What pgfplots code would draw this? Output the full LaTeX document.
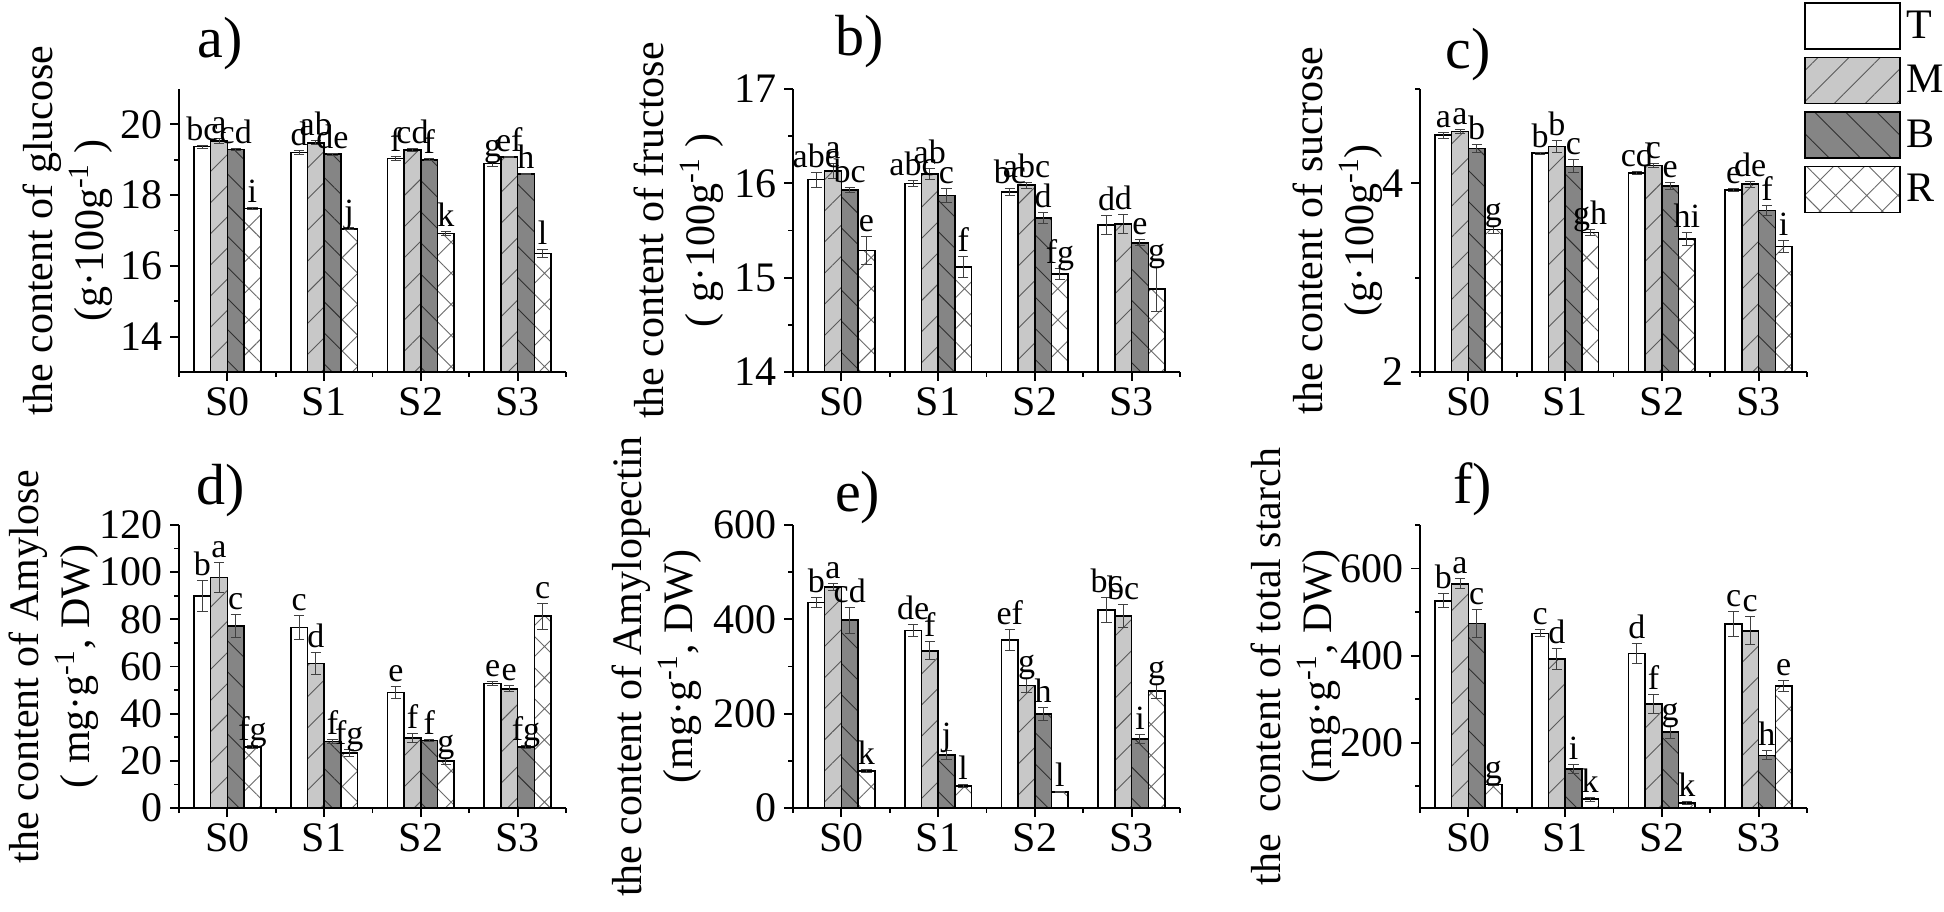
\documentclass[border=0pt]{standalone}
\usepackage{fontspec}
\setmainfont{Liberation Serif}
\usepackage{pgfplots}
\pgfplotsset{compat=1.18}
\usepackage{pgfplotstable}
\usetikzlibrary{patterns.meta}

\definecolor{mgray}{HTML}{C8C8C8}
\definecolor{bgray}{HTML}{858585}
\definecolor{hatchM}{HTML}{5A5A5A}
\definecolor{hatchB}{HTML}{303030}
\definecolor{hatchR}{HTML}{6A6A6A}
\definecolor{errc}{HTML}{404040}

% label columns: <error>/<letters>
\pgfplotstableread{
x T Te Tl M Me Ml B Be Bl R Re Rl
0 19.37 0.04 0.04/bc 19.53 0.06 0.06/a 19.29 0.03 0.03/cd 17.62 0.04 0.04/i
1 19.21 0.05 0.05/d 19.48 0.06 0.06/ab 19.16 0.03 0.03/de 17.05 0.03 0.03/j
2 19.03 0.06 0.06/f 19.27 0.05 0.05/cd 19.00 0.03 0.03/f 16.91 0.05 0.05/k
3 18.89 0.07 0.07/g 19.08 0.02 0.02/ef 18.60 0.02 0.02/h 16.35 0.10 0.10/l
}\dataA
\pgfplotstableread{
x T Te Tl M Me Ml B Be Bl R Re Rl
0 16.04 0.08 0.08/abc 16.13 0.08 0.08/a 15.93 0.03 0.03/bc 15.29 0.15 0.15/e
1 16.00 0.03 0.03/abc 16.10 0.06 0.06/ab 15.87 0.07 0.07/c 15.11 0.11 0.11/f
2 15.91 0.04 0.04/bc 15.98 0.03 0.03/abc 15.63 0.06 0.06/d 15.04 0.06 0.06/fg
3 15.56 0.10 0.10/d 15.57 0.10 0.10/d 15.37 0.03 0.03/e 14.88 0.24 0.24/g
}\dataB
\pgfplotstableread{
x T Te Tl M Me Ml B Be Bl R Re Rl
0 4.51 0.03 0.03/a 4.55 0.02 0.02/a 4.37 0.04 0.04/b 3.51 0.04 0.04/g
1 4.32 0.01 0.01/b 4.39 0.06 0.06/b 4.18 0.07 0.07/c 3.48 0.03 0.03/gh
2 4.11 0.02 0.02/cd 4.19 0.02 0.02/c 3.97 0.04 0.04/e 3.41 0.07 0.07/hi
3 3.93 0.02 0.02/e 3.99 0.03 0.03/de 3.71 0.05 0.05/f 3.33 0.06 0.06/i
}\dataC
\pgfplotstableread{
x T Te Tl M Me Ml B Be Bl R Re Rl
0 90.0 6.5 6.5/b 97.8 6.5 6.5/a 77.1 5.0 5.0/c 25.9 0.5 0.5/fg
1 76.6 5.0 5.0/c 61.3 4.5 4.5/d 28.2 1.0 1.0/f 23.3 1.5 1.5/fg
2 49.0 2.5 2.5/e 29.7 2.0 2.0/f 28.7 0.5 0.5/f 19.9 1.5 1.5/g
3 52.8 1.0 1.0/e 50.5 1.3 1.3/e 25.9 0.5 0.5/fg 81.4 5.5 5.5/c
}\dataD
\pgfplotstableread{
x T Te Tl M Me Ml B Be Bl R Re Rl
0 436 10 10/b 469 8 8/a 398 27 27/cd 78.5 3 3/k
1 376 12 12/de 333 19 19/f 112 10 10/j 46.7 3 3/l
2 356 22 22/ef 260 16 16/g 199 14 14/h 34 2 2/l
3 420 27 27/bc 407 25 25/bc 146 10 10/i 248 16 16/g
}\dataE
\pgfplotstableread{
x T Te Tl M Me Ml B Be Bl R Re Rl
0 526 16 16/b 565 12 12/a 474 32 32/c 104 2 2/g
1 451 8 8/c 392 24 24/d 139 10 10/i 70 4 4/k
2 405 22 22/d 289 22 22/f 225 15 15/g 62 3 3/k
3 472 29 29/c 457 32 32/c 171 10 10/h 330 13 13/e
}\dataF

\newcommand\labparse[1]{\edef\labtmp{#1}\expandafter\labparsei\labtmp\relax}
\def\labparsei#1/#2\relax{\raisebox{#1\dimexpr\myk\relax}{#2}}

\pgfplotsset{
  panel/.style={
    scale only axis, width=193.5pt, height=141.5pt,
    xmin=-0.5, xmax=3.5,
    xtick={0,1,2,3}, xticklabels={S0,S1,S2,S3},
    minor xtick={-0.5,0.5,1.5,2.5,3.5},
    axis x line*=bottom, axis y line*=left,
    axis line style={line width=0.9pt},
    tick align=outside,
    major tick length=4.5pt, minor tick length=2.5pt,
    tick style={black, line width=0.9pt},
    tick label style={font=\fontsize{21}{21}\selectfont},
    /pgf/number format/assume math mode=true,
    ybar=0pt, bar width=8.35pt,
    ylabel style={font=\fontsize{21}{25.5}\selectfont, align=center, inner sep=0pt, anchor=south},
    title style={font=\fontsize{29}{29}\selectfont, anchor=south west, inner sep=0pt},
    point meta=explicit symbolic,
    nodes near coords={\labparse{\pgfplotspointmeta}},
    every node near coord/.append style={font=\fontsize{17}{17}\selectfont, anchor=base, yshift=2.5pt, inner sep=0pt, text=black},
  },
  errs/.style={error bars/.cd, y dir=both, y explicit,
    error bar style={line width=0.5pt, errc},
    error mark options={rotate=90, mark size=2.6pt, line width=0.5pt, errc}},
  Tst/.style={draw=black, line width=0.8pt, fill=white},
  Mst/.style={draw=black, line width=0.8pt, fill=mgray, postaction={pattern color=hatchM, pattern={Lines[angle=45,distance=11pt,line width=0.45pt]}}},
  Bst/.style={draw=black, line width=0.8pt, fill=bgray, postaction={pattern color=hatchB, pattern={Lines[angle=-45,distance=11pt,line width=0.45pt]}}},
  Rst/.style={draw=black, line width=0.8pt, fill=white, postaction={pattern color=hatchR, pattern={Hatch[angle=45,distance=11pt,line width=0.45pt]}}},
}

\newcommand\series[3]{%
  \addplot[#1st, errs] table[x=x, y=#2, y error=#2e, meta=#2l] {#3};
}
\newcommand\allseries[1]{%
  \series{T}{T}{#1}
  \series{M}{M}{#1}
  \series{B}{B}{#1}
  \series{R}{R}{#1}
}

\begin{document}
\begin{tikzpicture}
\useasboundingbox (0,0) rectangle (972pt,455.5pt);

% a)
\def\myk{17.6875pt}
\begin{axis}[panel, at={(89.5pt,411pt)}, anchor=north west,
  ymin=13, ymax=21, ytick={14,16,18,20}, minor ytick={15,17,19},
  ylabel={the content of glucose\\(g·100g\textsuperscript{-1} )},
  ylabel style={at={(axis description cs:-0.17,0.5)}},
  title={a)}, title style={at={(axis description cs:0.047,1.025)}}]
\allseries{\dataA}
\end{axis}

% b)
\def\myk{47.1667pt}
\begin{axis}[panel, at={(396.5pt,411pt)}, anchor=north west,
  ymin=14, ymax=17, ytick={14,15,16,17}, minor ytick={14.5,15.5,16.5},
  ylabel={the content of fructose\\( g·100g\textsuperscript{-1} )},
  ylabel style={at={(axis description cs:-0.178,0.5)}},
  title={b)}, title style={at={(axis description cs:0.108,1.03)}}]
\allseries{\dataB}
\end{axis}

% c)
\def\myk{47.1667pt}
\begin{axis}[panel, at={(710pt,411pt)}, anchor=north west,
  ymin=2, ymax=5, ytick={2,4}, minor ytick={3,5},
  ylabel={the content of sucrose\\(g·100g\textsuperscript{-1})},
  ylabel style={at={(axis description cs:-0.096,0.5)}},
  title={c)}, title style={at={(axis description cs:0.065,0.985)}},
  legend image code/.code={\draw[#1] (0pt,-11.5pt) rectangle (47.5pt,11.5pt);},
  legend style={draw=none, fill=none, inner sep=0pt, row sep=3.5pt,
    font=\fontsize{21}{21}\selectfont,
    at={(axis description cs:0.992,1.3085)}, anchor=north west,
    /tikz/every odd column/.append style={column sep=1pt}},
  legend cell align=left]
\allseries{\dataC}
\legend{T,M,B,R}
\end{axis}

% d)
\def\myk{1.17917pt}
\begin{axis}[panel, at={(89.5pt,193pt)}, anchor=north west,
  ymin=0, ymax=120, ytick={0,20,40,60,80,100,120}, minor ytick={10,30,50,70,90,110},
  ylabel={the content of Amylose\\( mg·g\textsuperscript{-1}, DW)},
  ylabel style={at={(axis description cs:-0.207,0.5)}},
  title={d)}, title style={at={(axis description cs:0.045,0.985)}}]
\allseries{\dataD}
\end{axis}

% e)
\def\myk{0.235833pt}
\begin{axis}[panel, at={(396.5pt,193pt)}, anchor=north west,
  ymin=0, ymax=600, ytick={0,200,400,600}, minor ytick={100,300,500},
  ylabel={the content of Amylopectin\\(mg·g\textsuperscript{-1}, DW)},
  ylabel style={at={(axis description cs:-0.235,0.5)}},
  title={e)}, title style={at={(axis description cs:0.108,0.96)}}]
\allseries{\dataE}
\end{axis}

% f)
\def\myk{0.217692pt}
\begin{axis}[panel, at={(710pt,193pt)}, anchor=north west,
  ymin=50, ymax=700, ytick={200,400,600}, minor ytick={100,300,500,700},
  ylabel={the\ \ content of total starch\\(mg·g\textsuperscript{-1}, DW)},
  ylabel style={at={(axis description cs:-0.204,0.5)}},
  title={f)}, title style={at={(axis description cs:0.085,0.99)}}]
\allseries{\dataF}
\end{axis}
\end{tikzpicture}
\end{document}
